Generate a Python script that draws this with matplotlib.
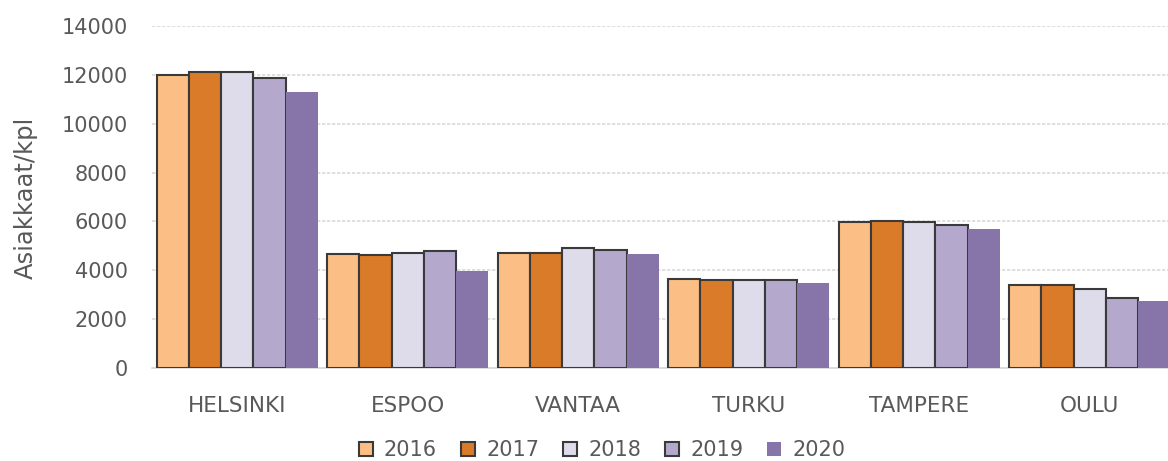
import matplotlib
matplotlib.use("Agg")
import matplotlib.pyplot as plt
import numpy as np

cities = ["HELSINKI", "ESPOO", "VANTAA", "TURKU", "TAMPERE", "OULU"]
years = ["2016", "2017", "2018", "2019", "2020"]
v2016 = [12000, 4670, 4720, 3650, 5960, 3400]
v2017 = [12120, 4610, 4720, 3590, 6020, 3400]
v2018 = [12120, 4720, 4910, 3590, 5960, 3220]
v2019 = [11890, 4780, 4840, 3590, 5840, 2850]
v2020 = [11300, 3960, 4680, 3480, 5680, 2740]
series = [v2016, v2017, v2018, v2019, v2020]
colors = ["#FBBF85", "#D97B28", "#DEDBEA", "#B4A9CC", "#8775AA"]
edges = ["#3a3a3a", "#3a3a3a", "#3a3a3a", "#3a3a3a", "none"]

plt.rcParams['font.family'] = ['DejaVu Sans']
txt = "#595959"

fig = plt.figure(figsize=(11.68, 4.61), dpi=100)
ax = fig.add_axes([152/1168, 1 - 368/461, (1175-152)/1168, (368-26)/461])

x = np.arange(len(cities))
bw = 0.945 / 5
for i, (vals, c, e) in enumerate(zip(series, colors, edges)):
    ax.bar(x + (i - 2) * bw, vals, width=bw, color=c, edgecolor=e,
           linewidth=1.5 if e != "none" else 0, label=years[i], zorder=3)

ax.set_xlim(-0.5, len(cities) - 0.5)
ax.set_ylim(0, 14000)
ax.set_yticks(np.arange(0, 14001, 2000))
ax.set_xticks(x)
ax.set_xticklabels(cities)
ax.grid(axis="y", color="#D9D9D9", linewidth=1.2, linestyle=(0, (2, 1)), zorder=0)
for s in ["top", "right", "left"]:
    ax.spines[s].set_visible(False)
ax.spines["bottom"].set_color("#D9D9D9")
ax.spines["bottom"].set_linewidth(1.2)
ax.tick_params(axis="y", length=0, pad=17.5, labelsize=15, labelcolor=txt)
ax.tick_params(axis="x", length=0, pad=20, labelsize=15.5, labelcolor=txt)
fig.text(26/1168, 1 - 198/461, "Asiakkaat/kpl", rotation=90, ha="center",
         va="center", fontsize=17.5, color=txt)

leg = fig.legend(loc="center", bbox_to_anchor=(602/1168, 1 - 450/461), ncol=5,
                 frameon=False, fontsize=15, handlelength=0.68, handleheight=0.68,
                 handletextpad=0.53, columnspacing=1.15, labelcolor=txt,
                 borderpad=0.2)

fig.savefig("out.png", dpi=100)
